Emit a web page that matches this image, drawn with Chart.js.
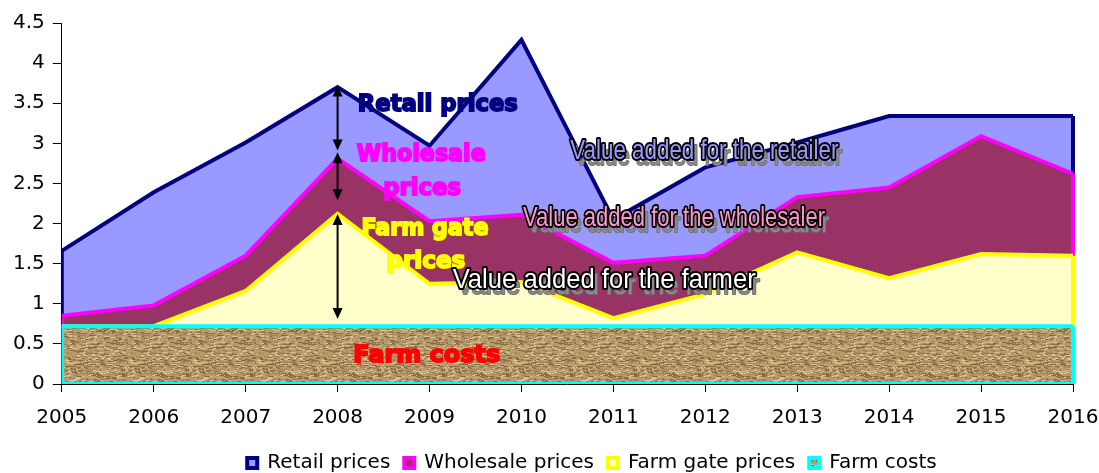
<!DOCTYPE html>
<html>
<head>
<meta charset="utf-8">
<script src="https://cdn.jsdelivr.net/npm/chart.js@4.4.1/dist/chart.umd.min.js"></script>
<style>
  html, body { margin: 0; padding: 0; background: #fff; }
  #wrap { width: 1099px; height: 473px; }
</style>
</head>
<body>
<div id="wrap"><canvas id="chart"></canvas></div>
<script>
const years = ["2005", "2006", "2007", "2008", "2009", "2010", "2011", "2012", "2013", "2014", "2015", "2016"];
const retailPrices = [1.66, 2.39, 3.01, 3.70, 2.97, 4.29, 2.05, 2.70, 3.01, 3.34, 3.34, 3.34];
const wholesalePrices = [0.85, 0.98, 1.60, 2.81, 2.03, 2.11, 1.51, 1.60, 2.33, 2.45, 3.09, 2.62];
const farmGatePrices = [0.72, 0.72, 1.16, 2.12, 1.25, 1.27, 0.82, 1.12, 1.64, 1.32, 1.62, 1.60];
const farmCosts = [0.72, 0.72, 0.72, 0.72, 0.72, 0.72, 0.72, 0.72, 0.72, 0.72, 0.72, 0.72];
const yMax = 4.5;
const yStep = 0.5;

// labels on the plot, placed in data units (x = category index, y = baseline value)
const boldLabels = [
  { text: "Retail prices", x: 4.09, y: 3.40, color: "#000080", w: 160 },
  { text: "Wholesale", x: 3.91, y: 2.775, color: "#ff00ff", w: 129 },
  { text: "prices", x: 3.92, y: 2.35, color: "#ff00ff", w: 78 },
  { text: "Farm gate", x: 3.95, y: 1.86, color: "#ffff00", w: 127 },
  { text: "prices", x: 3.96, y: 1.45, color: "#ffff00", w: 79 },
  { text: "Farm costs", x: 3.97, y: 0.28, color: "#ff0000", w: 147 }
];
const outlinedLabels = [
  { text: "Value added for the retailer", x: 6.99, y: 2.81, color: "#9999ff", w: 268 },
  { text: "Value added for the wholesaler", x: 6.66, y: 1.97, color: "#ff99cc", w: 302 },
  { text: "Value added for the farmer", x: 5.90, y: 1.20, color: "#ffffff", w: 303 }
];
const arrows = [
  { x: 3, from: 3.72, to: 2.91 },
  { x: 3, from: 2.89, to: 2.29 },
  { x: 3, from: 2.12, to: 0.81 }
];

function makeTexture() {
  const c = document.createElement("canvas");
  c.width = 64; c.height = 64;
  const g = c.getContext("2d");
  g.fillStyle = "#b89b6b";
  g.fillRect(0, 0, 64, 64);
  let s = 11;
  const next = () => { s = (s * 9301 + 49297) % 233280; return s / 233280; };
  for (let i = 0; i < 900; i++) {
    const x = Math.floor(next() * 64), y = Math.floor(next() * 64);
    const len = 1 + Math.floor(next() * 5);
    const v = next();
    g.fillStyle = v < 0.4 ? "#8a6c42" : v < 0.75 ? "#d6c094" : "#a3845a";
    g.fillRect(x, y, len, 1);
  }
  return g.createPattern(c, "repeat");
}

// Excel-style outline: vertical edges + base of each area
const areaOutline = {
  id: "areaOutline",
  afterDatasetDraw(chart, args) {
    const pts = args.meta.data;
    const ds = chart.data.datasets[args.index];
    const area = chart.chartArea;
    const base = chart.scales.y.getPixelForValue(0);
    const ctx = chart.ctx;
    ctx.save();
    ctx.beginPath();
    ctx.rect(area.left, area.top - 5, area.right - area.left + 3, area.bottom - area.top + 5);
    ctx.clip();
    ctx.strokeStyle = ds.borderColor;
    ctx.lineWidth = ds.borderWidth;
    ctx.lineJoin = "miter";
    ctx.beginPath();
    ctx.moveTo(pts[0].x, pts[0].y);
    ctx.lineTo(pts[0].x, base);
    ctx.lineTo(pts[pts.length - 1].x, base);
    ctx.lineTo(pts[pts.length - 1].x, pts[pts.length - 1].y);
    ctx.stroke();
    ctx.restore();
  }
};

// the legend in the original sits right of centre and close to the bottom edge
const legendShift = {
  id: "legendShift",
  afterLayout(chart) {
    const lg = chart.legend;
    lg.left += 40; lg.right += 40;
    lg.top += 10; lg.bottom += 10;
  }
};

function drawFitted(ctx, text, cx, by, w, paint) {
  const m = ctx.measureText(text).width;
  ctx.save();
  ctx.translate(cx, by);
  ctx.scale(w / m, 1);
  paint(-m / 2);
  ctx.restore();
}

const annotations = {
  id: "annotations",
  afterDatasetsDraw(chart) {
    const ctx = chart.ctx;
    const xs = chart.scales.x, ys = chart.scales.y;
    ctx.save();
    ctx.textAlign = "left";
    ctx.textBaseline = "alphabetic";

    // arrows
    ctx.strokeStyle = "#000";
    ctx.fillStyle = "#000";
    ctx.lineWidth = 2;
    arrows.forEach(a => {
      const x = xs.getPixelForValue(a.x);
      const y1 = ys.getPixelForValue(a.from), y2 = ys.getPixelForValue(a.to);
      ctx.beginPath();
      ctx.moveTo(x, y1 + 8);
      ctx.lineTo(x, y2 - 8);
      ctx.stroke();
      ctx.beginPath();
      ctx.moveTo(x, y1); ctx.lineTo(x - 5, y1 + 11); ctx.lineTo(x + 5, y1 + 11); ctx.closePath();
      ctx.moveTo(x, y2); ctx.lineTo(x - 5, y2 - 11); ctx.lineTo(x + 5, y2 - 11); ctx.closePath();
      ctx.fill();
    });

    ctx.font = "bold 23px 'DejaVu Sans'";
    boldLabels.forEach(l => {
      drawFitted(ctx, l.text, xs.getPixelForValue(l.x), ys.getPixelForValue(l.y), l.w, x0 => {
        ctx.fillStyle = l.color;
        ctx.strokeStyle = l.color;
        ctx.lineWidth = 1.8;
        ctx.strokeText(l.text, x0, 0);
        ctx.fillText(l.text, x0, 0);
      });
    });

    ctx.font = "28px 'Liberation Sans'";
    ctx.lineJoin = "round";
    outlinedLabels.forEach(l => {
      const cx = xs.getPixelForValue(l.x), by = ys.getPixelForValue(l.y);
      drawFitted(ctx, l.text, cx + 4, by + 6, l.w, x0 => {
        ctx.strokeStyle = "#6e6e6e";
        ctx.lineWidth = 2;
        ctx.strokeText(l.text, x0, 0);
        ctx.fillStyle = "#8c8c8c";
        ctx.fillText(l.text, x0, 0);
      });
      drawFitted(ctx, l.text, cx, by, l.w, x0 => {
        ctx.strokeStyle = "#000";
        ctx.lineWidth = 4;
        ctx.strokeText(l.text, x0, 0);
        ctx.fillStyle = l.color;
        ctx.fillText(l.text, x0, 0);
      });
    });
    ctx.restore();
  }
};

const texture = makeTexture();

const series = [
  { label: "Retail prices", data: retailPrices, border: "#000080", fill: "#9999ff" },
  { label: "Wholesale prices", data: wholesalePrices, border: "#ff00ff", fill: "#993366" },
  { label: "Farm gate prices", data: farmGatePrices, border: "#ffff00", fill: "#ffffcc" },
  { label: "Farm costs", data: farmCosts, border: "#00ffff", fill: texture }
];

new Chart(document.getElementById("chart"), {
  type: "line",
  data: {
    labels: years,
    datasets: series.map((s, i) => ({
      label: s.label,
      data: s.data,
      borderColor: s.border,
      backgroundColor: s.fill,
      borderWidth: 4,
      fill: "origin",
      tension: 0,
      pointRadius: 0,
      borderJoinStyle: "miter",
      order: series.length - i
    }))
  },
  options: {
    responsive: true,
    maintainAspectRatio: false,
    animation: false,
    layout: { padding: { left: 5, right: 0, top: 23, bottom: 0 } },
    plugins: {
      legend: {
        position: "bottom",
        labels: {
          font: { family: "DejaVu Sans", size: 20 },
          color: "#000",
          boxWidth: 10,
          boxHeight: 10,
          padding: 14,
          sort: (a, b) => a.datasetIndex - b.datasetIndex
        }
      },
      tooltip: { enabled: false }
    },
    scales: {
      x: {
        offset: false,
        z: 1,
        grid: { drawOnChartArea: false, drawTicks: true, tickLength: 8, color: "#000" },
        border: { color: "#000", width: 1 },
        ticks: { font: { family: "DejaVu Sans", size: 20 }, color: "#000", padding: 14, maxRotation: 0 },
        afterFit(scale) {
          scale.height = 45;
          scale.paddingRight = 26;
        }
      },
      y: {
        min: 0,
        max: yMax,
        z: 1,
        grid: { drawOnChartArea: false, drawTicks: true, tickLength: 9, color: "#000" },
        border: { color: "#000", width: 1 },
        ticks: {
          stepSize: yStep,
          font: { family: "DejaVu Sans", size: 20 },
          color: "#000",
          padding: 8,
          callback: v => String(v)
        }
      }
    }
  },
  plugins: [areaOutline, legendShift, annotations]
});
</script>
</body>
</html>
